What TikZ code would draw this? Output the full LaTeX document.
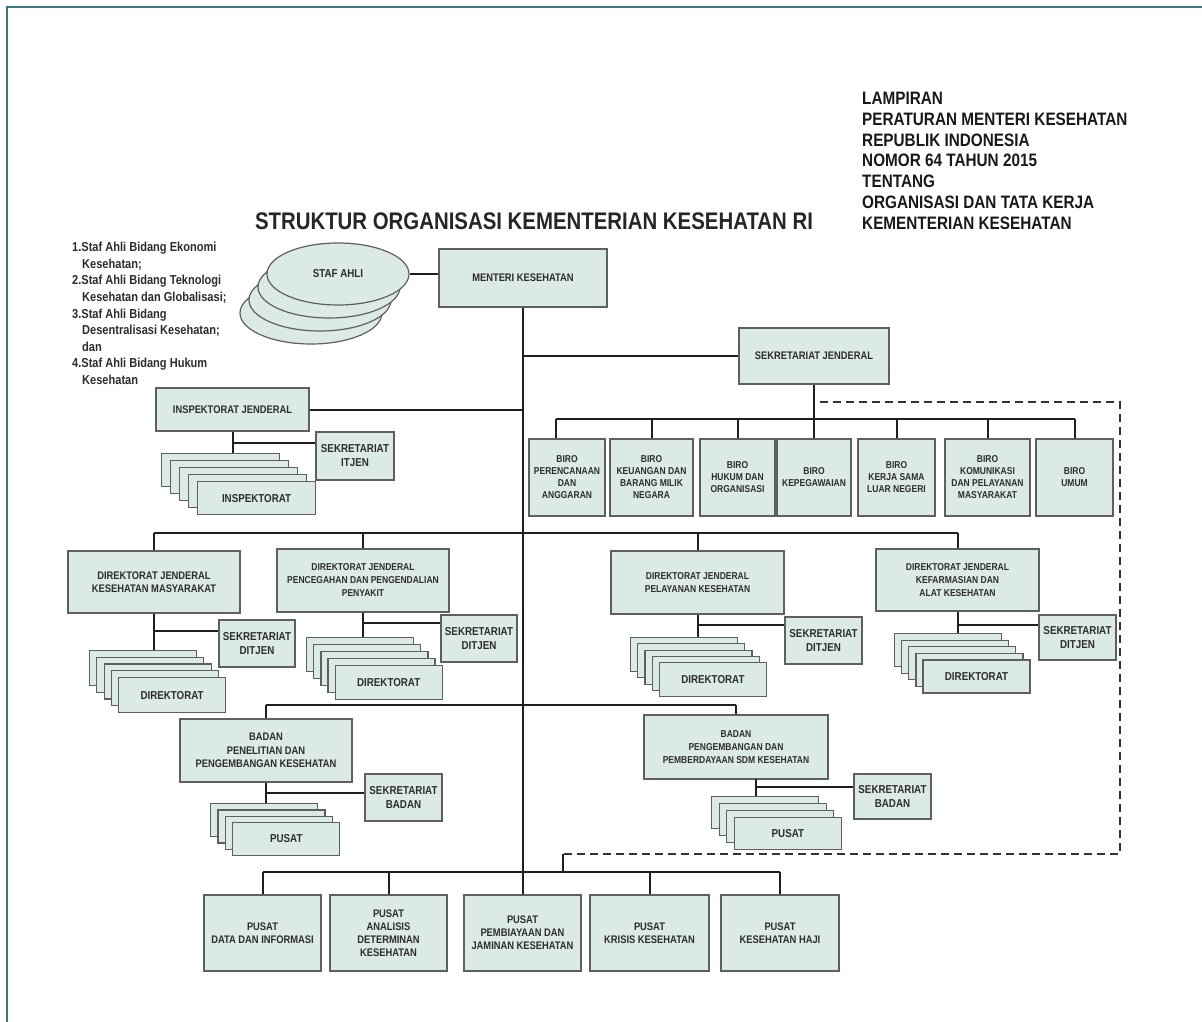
\documentclass[tikz,border=0pt]{standalone}
\usepackage{fontspec}
\setmainfont{Liberation Sans}[FakeStretch=0.85]
\usetikzlibrary{shapes.geometric}
\definecolor{boxfill}{RGB}{219,233,231}
\definecolor{boxline}{RGB}{95,95,95}
\definecolor{framecol}{RGB}{60,120,125}
\definecolor{txt}{RGB}{45,45,45}
\newcommand\fntbox{\fontsize{10}{13}\selectfont\bfseries}
\newcommand\fntboxL{\fontsize{11}{13.5}\selectfont\bfseries}
\newcommand\fntsek{\fontsize{11.5}{14}\selectfont\bfseries}
\newcommand\fntbiro{\fontsize{10}{12}\selectfont\bfseries}
\newcommand\fntpus{\fontsize{11}{13}\selectfont\bfseries}
\newcommand\fntlist{\fontsize{13}{16}\selectfont\bfseries}
\newcommand\fnthdr{\fontsize{18}{21}\selectfont\bfseries}
\newcommand\fnttitle{\fontsize{24}{28}\selectfont\bfseries}
\tikzset{
  box/.style={draw=boxline, fill=boxfill, line width=1.2pt, align=center, inner sep=1pt, text=txt, font=\fntbox},
  wh/.style 2 args={minimum width=#1pt, minimum height=#2pt},
  oval/.style={ellipse, draw=boxline, fill=boxfill, line width=1.2pt, minimum width=142pt, minimum height=62pt, text=txt, font=\fntsek},
  conn/.style={draw=black!88, line width=2pt},
  dashln/.style={draw=black!80, line width=2.2pt, dash pattern=on 8pt off 5pt},
  lbl/.style={anchor=base west, inner sep=0pt, text=txt, font=\fntlist},
  hdr/.style={anchor=base west, inner sep=0pt, text=black!90, font=\fnthdr},
}
\begin{document}
\begin{tikzpicture}[x=1pt,y=-1pt]
\useasboundingbox (0,0) rectangle (1202,1022);
\fill[white] (0,0) rectangle (1202,1022);
\draw[framecol, line width=1.5pt] (7,1022) -- (7,7) -- (1202,7);

% ---------- header texts
\node[anchor=base, inner sep=0pt, text=black!85, font=\fnttitle] (title) at (534,229) {STRUKTUR ORGANISASI KEMENTERIAN KESEHATAN RI};
\node[hdr] (h1) at (862,104.5) {LAMPIRAN};
\node[hdr] (h2) at (862,125.3) {PERATURAN MENTERI KESEHATAN};
\node[hdr] (h3) at (862,146.1) {REPUBLIK INDONESIA};
\node[hdr] (h4) at (862,166.9) {NOMOR 64 TAHUN 2015};
\node[hdr] (h5) at (862,187.7) {TENTANG};
\node[hdr] (h6) at (862,208.5) {ORGANISASI DAN TATA KERJA};
\node[hdr] (h7) at (862,229.3) {KEMENTERIAN KESEHATAN};

% ---------- staf ahli list
\node[lbl] (l1) at (72,251.7) {1.Staf Ahli Bidang Ekonomi};
\node[lbl] (l2) at (82,268.3) {Kesehatan;};
\node[lbl] (l3) at (72,284.9) {2.Staf Ahli Bidang Teknologi};
\node[lbl] (l4) at (82,301.5) {Kesehatan dan Globalisasi;};
\node[lbl] (l5) at (72,318.1) {3.Staf Ahli Bidang};
\node[lbl] (l6) at (82,334.7) {Desentralisasi Kesehatan;};
\node[lbl] (l7) at (82,351.3) {dan};
\node[lbl] (l8) at (72,367.9) {4.Staf Ahli Bidang Hukum};
\node[lbl] (l9) at (82,384.5) {Kesehatan};

% ---------- staf ahli ovals
\foreach \k in {3,2,1} \node[oval] (sa\k) at ({338-9*\k},{274+13*\k}) {};
\node[oval] (stafahli) at (338,274) {STAF AHLI};

% ---------- top level
\node[box, wh={168}{58}, font=\fntboxL] (menteri) at (523,278) {MENTERI KESEHATAN};
\node[box, wh={150}{56}, font=\fntboxL] (sekjen) at (814,356) {SEKRETARIAT JENDERAL};
\node[box, wh={153}{43}, font=\fntboxL] (inspj) at (232.5,409.5) {INSPEKTORAT JENDERAL};
\node[box, wh={78}{48}, font=\fntsek] (sekitjen) at (355,456) {SEKRETARIAT\\ITJEN};
\foreach \k in {0,1,2,3} \node[box, wh={118}{33}, anchor=north west] (inspst\k) at ({161+9*\k},{453+7*\k}) {};
\node[box, wh={118}{33}, anchor=north west, font=\fntsek] (inspfront) at (197,481) {INSPEKTORAT};

% ---------- biro
\node[box, wh={76}{77}, font=\fntbiro] (biro1) at (567,477.5) {BIRO\\PERENCANAAN\\DAN\\ANGGARAN};
\node[box, wh={83}{77}, font=\fntbiro] (biro2) at (651.5,477.5) {BIRO\\KEUANGAN DAN\\BARANG MILIK\\NEGARA};
\node[box, wh={75}{77}, font=\fntbiro] (biro3) at (737.5,477.5) {BIRO\\HUKUM DAN\\ORGANISASI};
\node[box, wh={74}{77}, font=\fntbiro] (biro4) at (814,477.5) {BIRO\\KEPEGAWAIAN};
\node[box, wh={77}{77}, font=\fntbiro] (biro5) at (896.5,477.5) {BIRO\\KERJA SAMA\\LUAR NEGERI};
\node[box, wh={85}{77}, font=\fntbiro] (biro6) at (987.5,477.5) {BIRO\\KOMUNIKASI\\DAN PELAYANAN\\MASYARAKAT};
\node[box, wh={77}{77}, font=\fntbiro] (biro7) at (1074.5,477.5) {BIRO\\UMUM};

% ---------- direktorat jenderal
\node[box, wh={172}{62}, font=\fntboxL] (djkes) at (154,582) {DIREKTORAT JENDERAL\\KESEHATAN MASYARAKAT};
\node[box, wh={172}{63}] (djp2p) at (363,580.5) {DIREKTORAT JENDERAL\\PENCEGAHAN DAN PENGENDALIAN\\PENYAKIT};
\node[box, wh={173}{63}] (djyan) at (697.5,582.5) {DIREKTORAT JENDERAL\\PELAYANAN KESEHATAN};
\node[box, wh={163}{62}] (djfarm) at (957.5,580) {DIREKTORAT JENDERAL\\KEFARMASIAN DAN\\ALAT KESEHATAN};

\node[box, wh={76}{47}, font=\fntsek] (sekkes) at (257,643.5) {SEKRETARIAT\\DITJEN};
\node[box, wh={76}{47}, font=\fntsek] (sekp2p) at (479,638.5) {SEKRETARIAT\\DITJEN};
\node[box, wh={77}{47}, font=\fntsek] (sekyan) at (823.5,640.5) {SEKRETARIAT\\DITJEN};
\node[box, wh={77}{45}, font=\fntsek] (sekfarm) at (1077.5,637.5) {SEKRETARIAT\\DITJEN};

\foreach \k in {0,1,2,3} \node[box, wh={107}{35}, anchor=north west] (kesst\k) at ({89+7.25*\k},{650+6.7*\k}) {};
\node[box, wh={107}{35}, anchor=north west, font=\fntsek] (kesdir) at (118,677) {DIREKTORAT};
\foreach \k in {0,1,2,3} \node[box, wh={107}{34}, anchor=north west] (p2pst\k) at ({306+7.15*\k},{637+6.9*\k}) {};
\node[box, wh={107}{34}, anchor=north west, font=\fntsek] (p2pdir) at (334.6,664.6) {DIREKTORAT};
\foreach \k in {0,1,2,3} \node[box, wh={107}{34}, anchor=north west] (yanst\k) at ({630+7.2*\k},{637+6.25*\k}) {};
\node[box, wh={107}{34}, anchor=north west, font=\fntsek] (yandir) at (658.8,662) {DIREKTORAT};
\foreach \k in {0,1,2,3} \node[box, wh={107}{33}, anchor=north west] (farmst\k) at ({894+7.1*\k},{633+6.6*\k}) {};
\node[box, wh={107}{33}, anchor=north west, font=\fntsek] (farmdir) at (922.4,659.4) {DIREKTORAT};

% ---------- badan
\node[box, wh={172}{63}, font=\fntboxL] (litbang) at (266,750.5) {BADAN\\PENELITIAN DAN\\PENGEMBANGAN KESEHATAN};
\node[box, wh={184}{64}] (ppsdm) at (736,747) {BADAN\\PENGEMBANGAN DAN\\PEMBERDAYAAN SDM KESEHATAN};
\node[box, wh={77}{47}, font=\fntsek] (seklit) at (403.5,797.5) {SEKRETARIAT\\BADAN};
\node[box, wh={77}{45}, font=\fntsek] (sekpp) at (892.5,796.5) {SEKRETARIAT\\BADAN};
\foreach \k in {0,1,2} \node[box, wh={107}{33}, anchor=north west] (litst\k) at ({210+7.4*\k},{803+6.3*\k}) {};
\node[box, wh={107}{33}, anchor=north west, font=\fntsek] (litpus) at (232.2,821.9) {PUSAT};
\foreach \k in {0,1,2} \node[box, wh={107}{32}, anchor=north west] (ppst\k) at ({711+7.6*\k},{796+7*\k}) {};
\node[box, wh={107}{32}, anchor=north west, font=\fntsek] (pppus) at (733.8,817) {PUSAT};

% ---------- pusat
\node[box, wh={117}{76}, font=\fntpus] (pusat1) at (262.5,933) {PUSAT\\DATA DAN INFORMASI};
\node[box, wh={117}{76}, font=\fntpus] (pusat2) at (388.5,933) {PUSAT\\ANALISIS\\DETERMINAN\\KESEHATAN};
\node[box, wh={117}{76}, font=\fntpus] (pusat3) at (522.5,933) {PUSAT\\PEMBIAYAAN DAN\\JAMINAN KESEHATAN};
\node[box, wh={119}{76}, font=\fntpus] (pusat4) at (649.5,933) {PUSAT\\KRISIS KESEHATAN};
\node[box, wh={118}{76}, font=\fntpus] (pusat5) at (780,933) {PUSAT\\KESEHATAN HAJI};

% ---------- coordinates
\coordinate (bbL) at (556,419);
\coordinate (djb) at (154,533);
\coordinate (bdb) at (266,705);
\coordinate (pb) at (262.5,872);
\coordinate (ij) at (232.5,443);
\coordinate (kesj) at (154,631);
\coordinate (p2pj) at (363,623);
\coordinate (yanj) at (697.5,625);
\coordinate (farmj) at (957.5,625);
\coordinate (litj) at (266,793);
\coordinate (ppv) at (756,779);
\coordinate (ppj) at (756,787);
\coordinate (d1) at (820,402);
\coordinate (d2) at (1120,402);
\coordinate (d3) at (1120,854);
\coordinate (d4) at (563,854);

% ---------- connectors
\draw[conn] (menteri.south) -- (menteri.south |- pusat3.north);
\draw[conn] (stafahli.east) -- (stafahli.east -| menteri.west);
\draw[conn] (menteri.south |- sekjen.west) -- (sekjen.west);
\draw[conn] (inspj.east) -- (inspj.east -| menteri.south);
\draw[conn] (inspj.south) -- (inspj.south |- inspst0.north);
\draw[conn] (ij) -- (ij -| sekitjen.west);

\draw[conn] (sekjen.south) -- (biro4.north);
\draw[conn] (bbL) -- (bbL -| biro7.north);
\draw[conn] (bbL) -- (bbL |- biro1.north);
\foreach \k in {2,3,5,6,7} \draw[conn] (biro\k.north) -- (biro\k.north |- bbL);

\draw[conn] (djb) -- (djb -| djfarm.north);
\foreach \n in {djkes,djp2p,djyan,djfarm} \draw[conn] (\n.north) -- (\n.north |- djb);
\draw[conn] (djkes.south) -- (djkes.south |- kesst0.north);
\draw[conn] (kesj) -- (kesj -| sekkes.west);
\draw[conn] (djp2p.south) -- (djp2p.south |- p2pst0.north);
\draw[conn] (p2pj) -- (p2pj -| sekp2p.west);
\draw[conn] (djyan.south) -- (djyan.south |- yanst0.north);
\draw[conn] (yanj) -- (yanj -| sekyan.west);
\draw[conn] (djfarm.south) -- (djfarm.south |- farmst0.north);
\draw[conn] (farmj) -- (farmj -| sekfarm.west);

\draw[conn] (bdb) -- (bdb -| ppsdm.north);
\draw[conn] (litbang.north) -- (litbang.north |- bdb);
\draw[conn] (ppsdm.north) -- (ppsdm.north |- bdb);
\draw[conn] (litbang.south) -- (litbang.south |- litst0.north);
\draw[conn] (litj) -- (litj -| seklit.west);
\draw[conn] (ppv) -- (ppv |- ppst0.north);
\draw[conn] (ppj) -- (ppj -| sekpp.west);

\draw[conn] (pb) -- (pb -| pusat5.north);
\foreach \k in {1,2,3,4,5} \draw[conn] (pusat\k.north) -- (pusat\k.north |- pb);

\draw[dashln] (d1) -- (d2) -- (d3) -- (d4);
\draw[conn, line width=1.5pt] (d4) -- (d4 |- pb);
\end{tikzpicture}
\end{document}
